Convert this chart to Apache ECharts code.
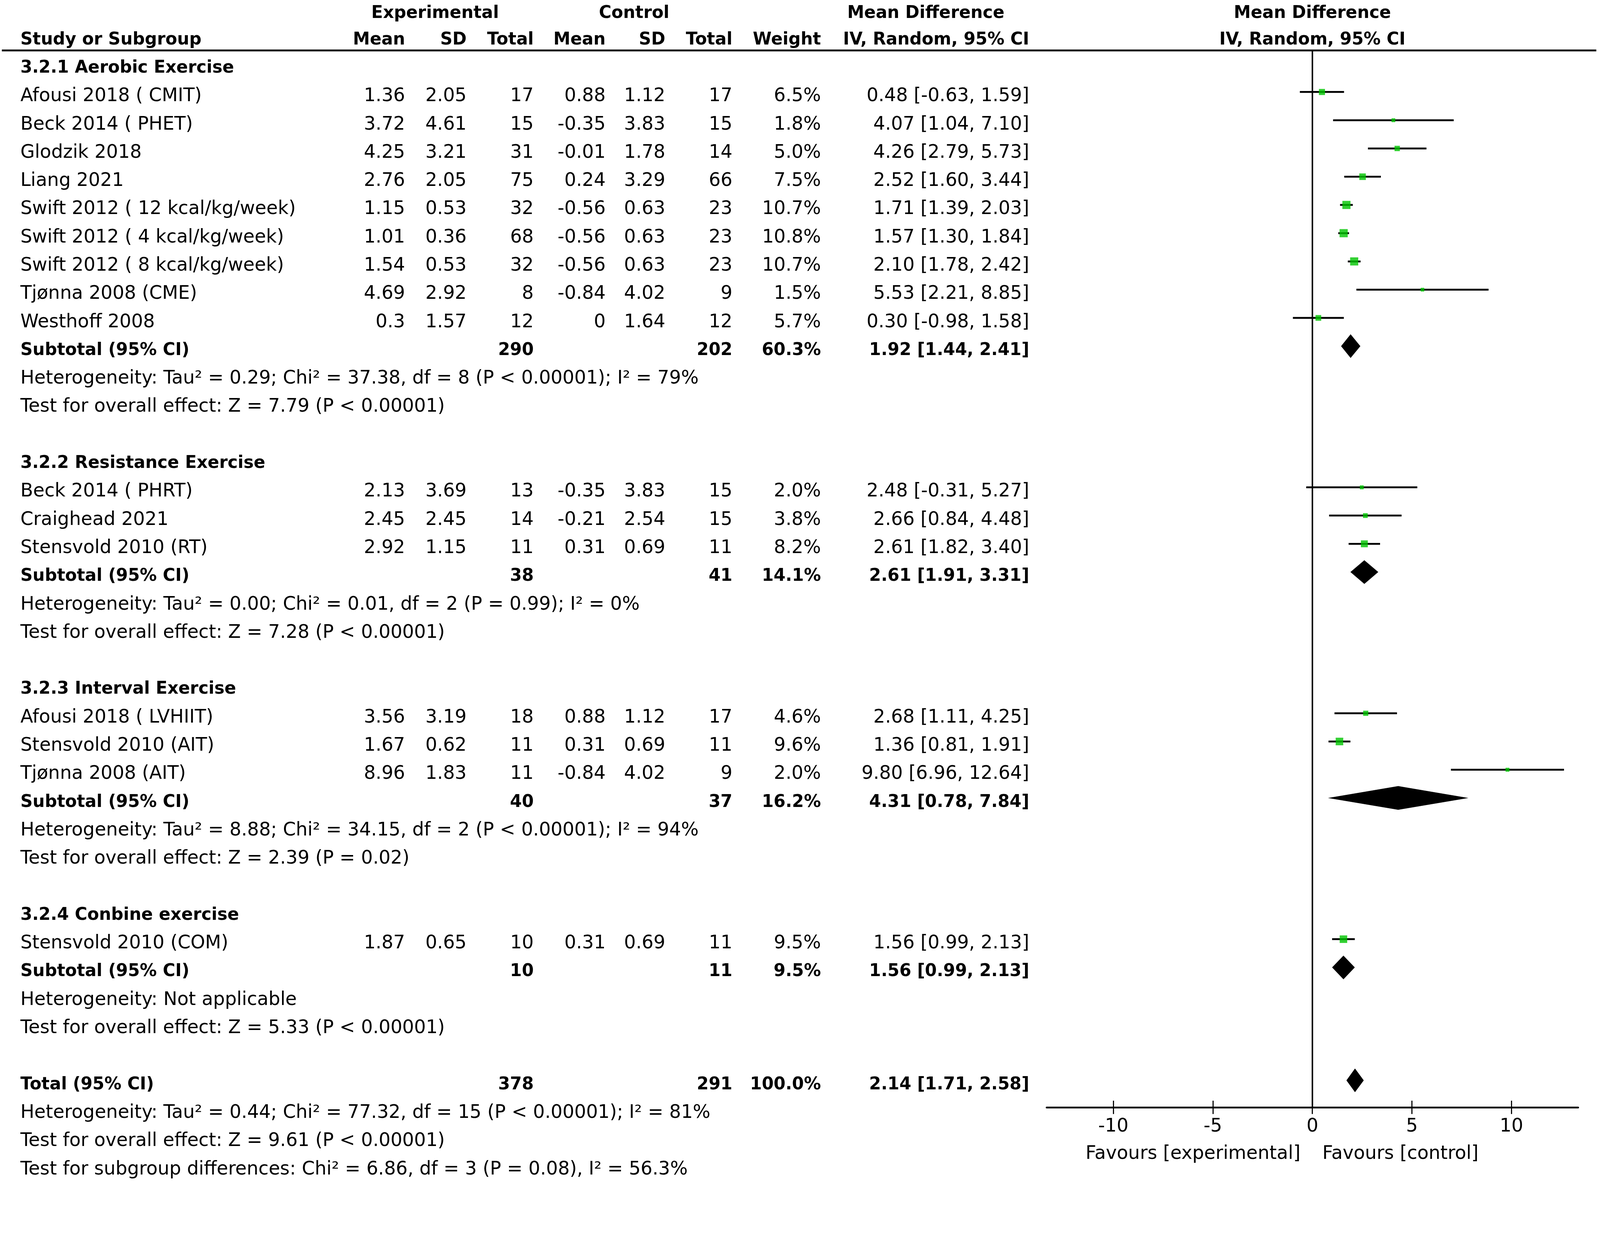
<!DOCTYPE html>
<html>
<head>
<meta charset="utf-8">
<script src="https://cdn.jsdelivr.net/npm/echarts@6.0.0/dist/echarts.min.js"></script>
<style>
  html, body { margin: 0; padding: 0; background: #fff; overflow: hidden; }
  #chart { width: 100vw; height: 100vh; }
</style>
</head>
<body>
<div id="chart"></div>
<script>
// ---- data ----
const groupTitles = ['3.2.1 Aerobic Exercise', '3.2.2 Resistance Exercise', '3.2.3 Interval Exercise', '3.2.4 Conbine exercise'];

const studyNames = [
  'Afousi 2018 ( CMIT)', 'Beck 2014 ( PHET)', 'Glodzik 2018', 'Liang 2021',
  'Swift 2012 ( 12 kcal/kg/week)', 'Swift 2012 ( 4 kcal/kg/week)', 'Swift 2012 ( 8 kcal/kg/week)',
  'Tjønna 2008 (CME)', 'Westhoff 2008',
  'Beck 2014 ( PHRT)', 'Craighead 2021', 'Stensvold 2010 (RT)',
  'Afousi 2018 ( LVHIIT)', 'Stensvold 2010 (AIT)', 'Tjønna 2008 (AIT)',
  'Stensvold 2010 (COM)'
];
const studyGroup = [0, 0, 0, 0, 0, 0, 0, 0, 0, 1, 1, 1, 2, 2, 2, 3];
const expMean = [1.36, 3.72, 4.25, 2.76, 1.15, 1.01, 1.54, 4.69, 0.3, 2.13, 2.45, 2.92, 3.56, 1.67, 8.96, 1.87];
const expSD   = [2.05, 4.61, 3.21, 2.05, 0.53, 0.36, 0.53, 2.92, 1.57, 3.69, 2.45, 1.15, 3.19, 0.62, 1.83, 0.65];
const expN    = [17, 15, 31, 75, 32, 68, 32, 8, 12, 13, 14, 11, 18, 11, 11, 10];
const ctlMean = [0.88, -0.35, -0.01, 0.24, -0.56, -0.56, -0.56, -0.84, 0, -0.35, -0.21, 0.31, 0.88, 0.31, -0.84, 0.31];
const ctlSD   = [1.12, 3.83, 1.78, 3.29, 0.63, 0.63, 0.63, 4.02, 1.64, 3.83, 2.54, 0.69, 1.12, 0.69, 4.02, 0.69];
const ctlN    = [17, 15, 14, 66, 23, 23, 23, 9, 12, 15, 15, 11, 17, 11, 9, 11];
const weights = [6.5, 1.8, 5.0, 7.5, 10.7, 10.8, 10.7, 1.5, 5.7, 2.0, 3.8, 8.2, 4.6, 9.6, 2.0, 9.5];
const md      = [0.48, 4.07, 4.26, 2.52, 1.71, 1.57, 2.10, 5.53, 0.30, 2.48, 2.66, 2.61, 2.68, 1.36, 9.80, 1.56];
const ciLow   = [-0.63, 1.04, 2.79, 1.60, 1.39, 1.30, 1.78, 2.21, -0.98, -0.31, 0.84, 1.82, 1.11, 0.81, 6.96, 0.99];
const ciHigh  = [1.59, 7.10, 5.73, 3.44, 2.03, 1.84, 2.42, 8.85, 1.58, 5.27, 4.48, 3.40, 4.25, 1.91, 12.64, 2.13];

const subExpN   = [290, 38, 40, 10];
const subCtlN   = [202, 41, 37, 11];
const subWeight = [60.3, 14.1, 16.2, 9.5];
const subMD     = [1.92, 2.61, 4.31, 1.56];
const subLow    = [1.44, 1.91, 0.78, 0.99];
const subHigh   = [2.41, 3.31, 7.84, 2.13];
const hetTexts = [
  'Heterogeneity: Tau² = 0.29; Chi² = 37.38, df = 8 (P < 0.00001); I² = 79%',
  'Heterogeneity: Tau² = 0.00; Chi² = 0.01, df = 2 (P = 0.99); I² = 0%',
  'Heterogeneity: Tau² = 8.88; Chi² = 34.15, df = 2 (P < 0.00001); I² = 94%',
  'Heterogeneity: Not applicable'
];
const testTexts = [
  'Test for overall effect: Z = 7.79 (P < 0.00001)',
  'Test for overall effect: Z = 7.28 (P < 0.00001)',
  'Test for overall effect: Z = 2.39 (P = 0.02)',
  'Test for overall effect: Z = 5.33 (P < 0.00001)'
];

const totalExpN = 378, totalCtlN = 291, totalWeight = 100.0;
const totalMD = 2.14, totalLow = 1.71, totalHigh = 2.58;
const totalLines = [
  'Heterogeneity: Tau² = 0.44; Chi² = 77.32, df = 15 (P < 0.00001); I² = 81%',
  'Test for overall effect: Z = 9.61 (P < 0.00001)',
  'Test for subgroup differences: Chi² = 6.86, df = 3 (P = 0.08), I² = 56.3%'
];

const tickValues = [-10, -5, 0, 5, 10];
const favourLabels = ['Favours [experimental]', 'Favours [control]'];

// ---- layout (reference pixels, scaled to the viewport) ----
const REF_W = 4317, REF_H = 3190;
const S = Math.min(window.innerWidth / REF_W, window.innerHeight / REF_H);
const px = v => v * S;

const ROW0 = 172, PITCH = 76.2;         // y of row 0 and row spacing
const TOP = 136, AXIS_Y = 2988;
const YMIN = (TOP - ROW0) / PITCH, YMAX = (AXIS_Y - ROW0) / PITCH;
const TEXT_DY = 12;
const FONT = 'DejaVu Sans';
const FS = 50, FS_B = 46;
const X_MIN = -13.35, X_MAX = 13.35;
const COL = { name: 55, eMean: 1093, eSD: 1259, eN: 1440, cMean: 1634, cSD: 1795, cN: 1976, w: 2215, ci: 2777 };
const ZERO_PX = 3541;

const fmtCI = (m, l, h) => m.toFixed(2) + ' [' + l.toFixed(2) + ', ' + h.toFixed(2) + ']';

// ---- build table cells ----
const cells = [];
function cell(x, row, text, align, bold) { cells.push({ x, row, text, align, bold }); }

cell(1174, -1.93, 'Experimental', 'center', true);
cell(1711, -1.93, 'Control', 'center', true);
cell(2498, -1.93, 'Mean Difference', 'center', true);
cell(ZERO_PX, -1.93, 'Mean Difference', 'center', true);
cell(COL.name, -1.0, 'Study or Subgroup', 'left', true);
cell(COL.eMean, -1.0, 'Mean', 'right', true);
cell(COL.eSD, -1.0, 'SD', 'right', true);
cell(COL.eN, -1.0, 'Total', 'right', true);
cell(COL.cMean, -1.0, 'Mean', 'right', true);
cell(COL.cSD, -1.0, 'SD', 'right', true);
cell(COL.cN, -1.0, 'Total', 'right', true);
cell(COL.w, -1.0, 'Weight', 'right', true);
cell(COL.ci, -1.0, 'IV, Random, 95% CI', 'right', true);
cell(ZERO_PX, -1.0, 'IV, Random, 95% CI', 'center', true);

const ciData = [], pointData = [], diamondData = [];
let row = 0;
groupTitles.forEach((title, g) => {
  cell(COL.name, row, title, 'left', true);
  row++;
  studyNames.forEach((name, i) => {
    if (studyGroup[i] !== g) return;
    cell(COL.name, row, name, 'left', false);
    cell(COL.eMean, row, String(expMean[i]), 'right', false);
    cell(COL.eSD, row, String(expSD[i]), 'right', false);
    cell(COL.eN, row, String(expN[i]), 'right', false);
    cell(COL.cMean, row, String(ctlMean[i]), 'right', false);
    cell(COL.cSD, row, String(ctlSD[i]), 'right', false);
    cell(COL.cN, row, String(ctlN[i]), 'right', false);
    cell(COL.w, row, weights[i].toFixed(1) + '%', 'right', false);
    cell(COL.ci, row, fmtCI(md[i], ciLow[i], ciHigh[i]), 'right', false);
    ciData.push([ciLow[i], ciHigh[i], row]);
    pointData.push([md[i], row, weights[i]]);
    row++;
  });
  cell(COL.name, row, 'Subtotal (95% CI)', 'left', true);
  cell(COL.eN, row, String(subExpN[g]), 'right', true);
  cell(COL.cN, row, String(subCtlN[g]), 'right', true);
  cell(COL.w, row, subWeight[g].toFixed(1) + '%', 'right', true);
  cell(COL.ci, row, fmtCI(subMD[g], subLow[g], subHigh[g]), 'right', true);
  diamondData.push([subLow[g], subMD[g], subHigh[g], row]);
  row++;
  cell(COL.name, row++, hetTexts[g], 'left', false);
  cell(COL.name, row++, testTexts[g], 'left', false);
  row++;
});
cell(COL.name, row, 'Total (95% CI)', 'left', true);
cell(COL.eN, row, String(totalExpN), 'right', true);
cell(COL.cN, row, String(totalCtlN), 'right', true);
cell(COL.w, row, totalWeight.toFixed(1) + '%', 'right', true);
cell(COL.ci, row, fmtCI(totalMD, totalLow, totalHigh), 'right', true);
diamondData.push([totalLow, totalMD, totalHigh, row]);
row++;
totalLines.forEach(t => cell(COL.name, row++, t, 'left', false));

const FAV_ROW = 38.45;
const favCells = [
  { x: -0.6, row: FAV_ROW, text: favourLabels[0], align: 'right' },
  { x: 0.5, row: FAV_ROW, text: favourLabels[1], align: 'left' }
];

function textItem(c, p) {
  return {
    type: 'text', x: p[0], y: p[1] + px(TEXT_DY),
    style: {
      text: c.text, align: c.align, verticalAlign: 'middle',
      fontFamily: FONT, fontSize: px(c.bold ? FS_B : FS), fontWeight: c.bold ? 'bold' : 'normal', fill: '#000'
    }
  };
}

const chart = echarts.init(document.getElementById('chart'));
chart.setOption({
  backgroundColor: '#fff',
  animation: false,
  grid: [
    { left: 0, top: px(TOP), width: px(REF_W), height: px(AXIS_Y - TOP) },
    { left: px(2824), top: px(TOP), width: px(1434), height: px(AXIS_Y - TOP) }
  ],
  xAxis: [
    { type: 'value', gridIndex: 0, min: 0, max: REF_W, show: false },
    {
      type: 'value', gridIndex: 1, min: X_MIN, max: X_MAX, position: 'bottom',
      axisLine: { show: true, onZero: false, lineStyle: { color: '#000', width: px(5) } },
      axisTick: { show: true, customValues: tickValues, length: px(18), lineStyle: { color: '#000', width: px(3) } },
      axisLabel: { customValues: tickValues, fontFamily: FONT, fontSize: px(FS), color: '#000', margin: px(28) },
      splitLine: { show: false }
    },
    {
      type: 'value', gridIndex: 1, min: X_MIN, max: X_MAX, position: 'bottom',
      axisLine: { show: false, onZero: false },
      axisTick: { show: true, inside: true, customValues: tickValues, length: px(18), lineStyle: { color: '#000', width: px(3) } },
      axisLabel: { show: false },
      splitLine: { show: false }
    }
  ],
  yAxis: [
    { type: 'value', gridIndex: 0, min: YMIN, max: YMAX, inverse: true, show: false },
    { type: 'value', gridIndex: 1, min: YMIN, max: YMAX, inverse: true, show: false }
  ],
  series: [
    {
      // header rule
      type: 'line', xAxisIndex: 0, yAxisIndex: 0, clip: false, symbol: 'none', silent: true,
      data: [[5, YMIN], [4307, YMIN]],
      lineStyle: { color: '#000', width: px(5) }
    },
    {
      type: 'custom', xAxisIndex: 0, yAxisIndex: 0, clip: false, silent: true,
      data: cells.map(c => [c.x, c.row]),
      renderItem: (params, api) => {
        const c = cells[params.dataIndex];
        return textItem(c, api.coord([c.x, c.row]));
      }
    },
    {
      // line of no effect
      type: 'line', xAxisIndex: 1, yAxisIndex: 1, clip: false, symbol: 'none', silent: true,
      data: [[0, YMIN], [0, YMAX]],
      lineStyle: { color: '#000', width: px(4) }
    },
    {
      type: 'custom', xAxisIndex: 1, yAxisIndex: 1, clip: false, silent: true,
      data: ciData,
      renderItem: (params, api) => {
        const a = api.coord([api.value(0), api.value(2)]);
        const b = api.coord([api.value(1), api.value(2)]);
        return { type: 'line', shape: { x1: a[0], y1: a[1], x2: b[0], y2: b[1] }, style: { stroke: '#000', lineWidth: px(5) } };
      }
    },
    {
      type: 'scatter', xAxisIndex: 1, yAxisIndex: 1, silent: true, symbol: 'rect',
      data: pointData,
      symbolSize: v => px(8 + 1.3 * v[2]),
      itemStyle: { color: '#00c400' }
    },
    {
      type: 'custom', xAxisIndex: 1, yAxisIndex: 1, clip: false, silent: true,
      data: diamondData,
      renderItem: (params, api) => {
        const r = api.value(3);
        const l = api.coord([api.value(0), r]);
        const m = api.coord([api.value(1), r]);
        const h = api.coord([api.value(2), r]);
        const half = px(32);
        return {
          type: 'polygon',
          shape: { points: [[l[0], l[1]], [m[0], m[1] - half], [h[0], h[1]], [m[0], m[1] + half]] },
          style: { fill: '#000' }
        };
      }
    },
    {
      type: 'custom', xAxisIndex: 1, yAxisIndex: 1, clip: false, silent: true,
      data: favCells.map(c => [c.x, c.row]),
      renderItem: (params, api) => {
        const c = favCells[params.dataIndex];
        return textItem(c, api.coord([c.x, c.row]));
      }
    }
  ]
});
</script>
</body>
</html>
